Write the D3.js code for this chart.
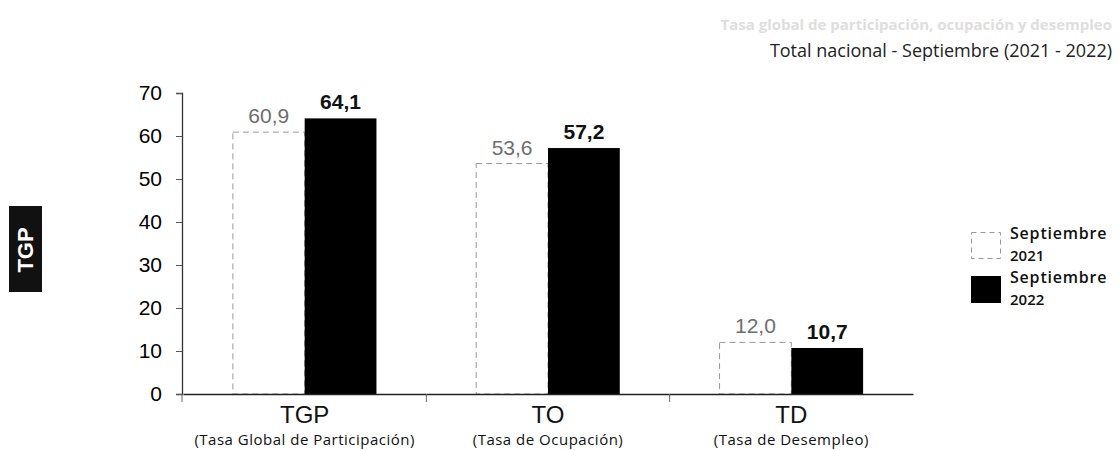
<!DOCTYPE html>
<html><head><meta charset="utf-8">
<script src="https://cdn.jsdelivr.net/npm/d3@7"></script>
<style>body{margin:0;background:#fff}svg{display:block}</style>
</head><body><svg id="c" width="1119" height="450"></svg>
<script>
const categories = ["TGP", "TO", "TD"];
const categoryNames = ["(Tasa Global de Participación)", "(Tasa de Ocupación)", "(Tasa de Desempleo)"];
const seriesNames = ["Septiembre 2021", "Septiembre 2022"];
const legendLines = [["Septiembre", "2021"], ["Septiembre", "2022"]];
const values2021 = [60.9, 53.6, 12.0];
const values2022 = [64.1, 57.2, 10.7];
const yTicks = [0, 10, 20, 30, 40, 50, 60, 70];
const title = "Total nacional - Septiembre (2021 - 2022)";
const fadedTitle = "Tasa global de participación, ocupación y desempleo";

const fmt = v => d3.format(".1f")(v).replace(".", ",");
const svg = d3.select("#c");

const x = d3.scaleBand().domain(categories).range([183, 913]).paddingInner(0.41).paddingOuter(0.205);
const xs = d3.scaleBand().domain([0, 1]).range([0, x.bandwidth()]);
const y = d3.scaleLinear().domain([0, 70]).range([394, 93]);

// titles
svg.append("text").attr("x", 1112).attr("y", 30).attr("text-anchor", "end")
  .attr("font-family", "Open Sans").attr("font-size", 15).attr("font-weight", 700)
  .attr("fill", "#dedede").text(fadedTitle);
svg.append("text").attr("x", 1112).attr("y", 57).attr("text-anchor", "end")
  .attr("font-family", "Open Sans").attr("font-size", 18).attr("fill", "#222").text(title);

// left icon
const icon = svg.append("g");
icon.append("rect").attr("x", 9).attr("y", 206).attr("width", 33).attr("height", 86).attr("fill", "#111");
icon.append("text").attr("transform", "translate(33,250) rotate(-90)").attr("text-anchor", "middle")
  .attr("font-family", "Liberation Sans").attr("font-weight", 700).attr("font-size", 22).attr("fill", "#fff").text("TGP");

// y axis
const yAxis = d3.axisLeft(y).tickValues(yTicks).tickSize(6).tickPadding(14).tickFormat(d3.format("d"));
const gy = svg.append("g").attr("transform", "translate(182,0)").call(yAxis);
gy.select(".domain").attr("stroke", "#333").attr("stroke-width", 1.3);
gy.selectAll(".tick line").attr("stroke", "#555");
gy.selectAll(".tick text").attr("font-family", "Liberation Sans").attr("font-size", 21).attr("fill", "#000");

// bars
const series = [values2021, values2022];
series.forEach((vals, si) => {
  const g = svg.append("g");
  g.selectAll("rect").data(categories).join("rect")
    .attr("x", d => x(d) + xs(si))
    .attr("y", (d, i) => y(vals[i]))
    .attr("width", xs.bandwidth())
    .attr("height", (d, i) => y(0) - y(vals[i]))
    .attr("fill", si === 0 ? "#fff" : "#000")
    .attr("stroke", si === 0 ? "#999" : "#000")
    .attr("stroke-width", si === 0 ? 1 : 0)
    .attr("stroke-dasharray", si === 0 ? "6,4" : null);
  g.selectAll("text").data(categories).join("text")
    .attr("x", d => x(d) + xs(si) + xs.bandwidth() / 2)
    .attr("y", (d, i) => y(vals[i]) - 9)
    .attr("text-anchor", "middle")
    .attr("font-family", "Liberation Sans").attr("font-size", 21)
    .attr("font-weight", si === 0 ? 400 : 700)
    .attr("fill", si === 0 ? "#6e6e6e" : "#111")
    .text((d, i) => fmt(vals[i]));
});

// x axis
const xAxis = d3.axisBottom(x).tickSize(0).tickFormat("");
const gx = svg.append("g").attr("transform", `translate(0,${y(0)})`).call(xAxis);
gx.select(".domain").attr("stroke", "#222").attr("stroke-width", 1.5);
const bounds = categories.slice(1).map(c => x(c) - x.step() * x.paddingInner() / 2);
gx.selectAll("line.sep").data([x.range()[0] - 1].concat(bounds)).join("line").attr("class", "sep")
  .attr("x1", d => d).attr("x2", d => d).attr("y1", 0).attr("y2", 8).attr("stroke", "#666");
gx.selectAll("text.cat").data(categories).join("text").attr("class", "cat")
  .attr("x", d => x(d) + x.bandwidth() / 2).attr("y", 29).attr("text-anchor", "middle")
  .attr("font-family", "Liberation Sans").attr("font-size", 24).attr("fill", "#111").text(d => d);
gx.selectAll("text.sub").data(categoryNames).join("text").attr("class", "sub")
  .attr("x", (d, i) => x(categories[i]) + x.bandwidth() / 2).attr("y", 51).attr("text-anchor", "middle")
  .attr("font-family", "Open Sans").attr("font-size", 15).attr("letter-spacing", 0.5)
  .attr("fill", "#111").text(d => d);

// legend
const lg = svg.append("g").attr("transform", "translate(971,232)");
seriesNames.forEach((s, i) => {
  const row = lg.append("g").attr("transform", `translate(0,${i * 44})`);
  row.append("rect").attr("x", 0.5).attr("y", 0.5).attr("width", 29).attr("height", 26)
    .attr("fill", i === 0 ? "#fff" : "#000").attr("stroke", i === 0 ? "#999" : "#000")
    .attr("stroke-dasharray", i === 0 ? "5,4" : null);
  row.append("text").attr("x", 39).attr("y", 7).attr("font-family", "Open Sans").attr("font-size", 16)
    .attr("letter-spacing", 0.8).attr("font-weight", 600).attr("fill", "#111").text(legendLines[i][0]);
  row.append("text").attr("x", 39).attr("y", 29).attr("font-family", "Open Sans").attr("font-size", 15)
    .attr("font-weight", 600).attr("fill", "#111").text(legendLines[i][1]);
});
</script></body></html>
